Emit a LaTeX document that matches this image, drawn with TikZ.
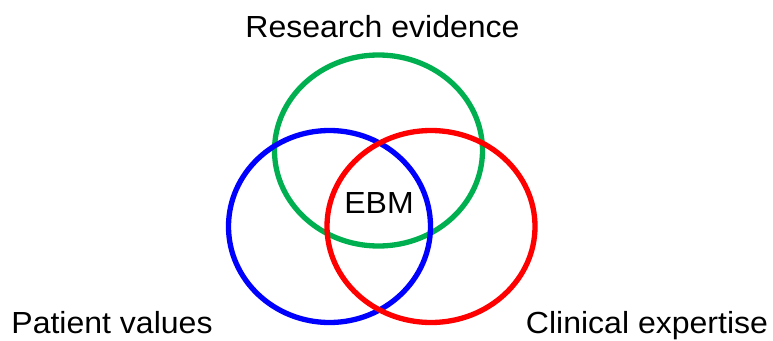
\documentclass[tikz,border=0pt]{standalone}
\usepackage{fontspec}
\setmainfont{Liberation Sans}
\definecolor{evgreen}{RGB}{0,176,80}
\definecolor{evblue}{RGB}{0,0,255}
\definecolor{evred}{RGB}{255,0,0}
\newcommand{\wtxt}[1]{\scalebox{1.05}[1]{#1}}
\begin{document}
\begin{tikzpicture}[x=1pt,y=-1pt,
  ring/.style={line width=5.3pt},
  lbl/.style={font=\fontsize{30.5}{34}\selectfont, inner sep=0pt, anchor=base}]
\useasboundingbox (0,0) rectangle (773,340);
\draw[ring, evgreen] (378.5,150.5) ellipse [x radius=104, y radius=95.5];
\draw[ring, evblue]  (329.5,226.5) ellipse [x radius=101, y radius=96];
\draw[ring, evred]   (431,226.5) ellipse [x radius=104, y radius=96];
\node[lbl] (research) at (382.5,37) {\wtxt{Research evidence}};
\node[lbl] (ebm) at (379,213) {\wtxt{EBM}};
\node[lbl] (patient) at (112,333) {\wtxt{Patient values}};
\node[lbl] (clinical) at (647,333) {\wtxt{Clinical expertise}};
\end{tikzpicture}
\end{document}
